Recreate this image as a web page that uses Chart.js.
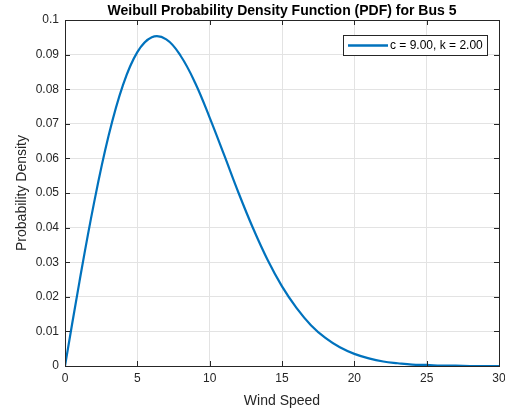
<!DOCTYPE html>
<html>
<head>
<meta charset="utf-8">
<script src="https://cdn.jsdelivr.net/npm/chart.js@4"></script>
<style>
  html, body { margin: 0; padding: 0; background: #fff; }
  #wrap { width: 505px; height: 410px; }
</style>
</head>
<body>
<div id="wrap"><canvas id="pdfChart" width="505" height="410"></canvas></div>
<script>
// values
const windSpeed = [0, 1, 2, 3, 4, 5, 6, 7, 8, 9, 10, 11, 12, 13, 14, 15, 16, 17, 18, 19, 20, 21, 22, 23, 24, 25, 26, 27, 28, 29, 30];
const density = [0, 0.0244, 0.0470, 0.0663, 0.0811, 0.0907, 0.0950, 0.0944, 0.0896, 0.0818, 0.0718,
    0.0610, 0.0500, 0.0398, 0.0307, 0.0230, 0.0168, 0.0118, 0.0081, 0.0054, 0.0035,
    0.0022, 0.0013, 0.0008, 0.0004, 0.0003, 0.0001, 0.0001, 0, 0, 0];
const seriesLabel = 'c = 9.00, k = 2.00';
const chartTitle = 'Weibull Probability Density Function (PDF) for Bus 5';
const xTicks = [0, 5, 10, 15, 20, 25, 30];
const yTicks = [0, 0.01, 0.02, 0.03, 0.04, 0.05, 0.06, 0.07, 0.08, 0.09, 0.1];

const axisColor = '#262626';
const lineColor = '#0072BD';
const fontFamily = '"Liberation Sans", Arial, sans-serif';

// box, inner ticks, title and legend like matlab
const matlabFrame = {
    id: 'matlabFrame',
    afterDraw(chart) {
        const ctx = chart.ctx;
        const a = chart.chartArea;
        const xs = chart.scales.x, ys = chart.scales.y;
        ctx.save();
        ctx.strokeStyle = axisColor;
        ctx.lineWidth = 1;
        ctx.beginPath();
        ctx.rect(Math.round(a.left) + 0.5, Math.round(a.top) + 0.5, Math.round(a.right - a.left), Math.round(a.bottom - a.top));
        ctx.stroke();
        ctx.beginPath();
        xTicks.forEach(v => {
            const px = Math.round(xs.getPixelForValue(v)) + 0.5;
            ctx.moveTo(px, a.bottom); ctx.lineTo(px, a.bottom - 5);
            ctx.moveTo(px, a.top); ctx.lineTo(px, a.top + 5);
        });
        yTicks.forEach(v => {
            const py = Math.round(ys.getPixelForValue(v)) + 0.5;
            ctx.moveTo(a.left, py); ctx.lineTo(a.left + 5, py);
            ctx.moveTo(a.right, py); ctx.lineTo(a.right - 5, py);
        });
        ctx.stroke();

        // title
        ctx.fillStyle = '#000';
        ctx.font = 'bold 14px ' + fontFamily;
        ctx.textAlign = 'center';
        ctx.textBaseline = 'middle';
        ctx.fillText(chartTitle, (a.left + a.right) / 2, 11);

        // legend
        const lx = 343, ly = 35, lw = 144, lh = 20;
        ctx.fillStyle = '#fff';
        ctx.fillRect(lx, ly, lw, lh);
        ctx.strokeStyle = axisColor;
        ctx.strokeRect(lx + 0.5, ly + 0.5, lw, lh);
        ctx.strokeStyle = lineColor;
        ctx.lineWidth = 2.5;
        ctx.beginPath();
        ctx.moveTo(lx + 5, ly + 10.5);
        ctx.lineTo(lx + 45, ly + 10.5);
        ctx.stroke();
        ctx.fillStyle = '#000';
        ctx.font = '12px ' + fontFamily;
        ctx.textAlign = 'left';
        ctx.fillText(seriesLabel, lx + 47, ly + 11);
        ctx.restore();
    }
};

const ctx = document.getElementById('pdfChart').getContext('2d');
new Chart(ctx, {
    type: 'line',
    data: {
        datasets: [{
            label: seriesLabel,
            data: windSpeed.map((w, i) => ({ x: w, y: density[i] })),
            borderColor: lineColor,
            borderWidth: 2.2,
            pointRadius: 0,
            fill: false,
            tension: 0.4
        }]
    },
    options: {
        responsive: false,
        animation: false,
        layout: { padding: { top: 20, right: 0, left: 0, bottom: 0 } },
        plugins: {
            legend: { display: false },
            tooltip: { enabled: false }
        },
        scales: {
            x: {
                type: 'linear',
                min: 0,
                max: 30,
                afterBuildTicks: s => { s.ticks = xTicks.map(v => ({ value: v })); },
                afterFit: s => { s.height = 44; s.paddingRight = 6; },
                grid: { color: '#e3e3e3', drawTicks: false },
                border: { color: axisColor },
                ticks: {
                    color: axisColor,
                    padding: 5,
                    maxRotation: 0,
                    font: { family: fontFamily, size: 12 }
                },
                title: {
                    display: true,
                    text: 'Wind Speed',
                    color: axisColor,
                    padding: { top: 0, bottom: 0 },
                    font: { family: fontFamily, size: 14 }
                }
            },
            y: {
                min: 0,
                max: 0.1,
                afterBuildTicks: s => { s.ticks = yTicks.map(v => ({ value: v })); },
                afterFit: s => { s.width = 65; },
                grid: { color: '#e3e3e3', drawTicks: false },
                border: { color: axisColor },
                ticks: {
                    color: axisColor,
                    padding: 6,
                    font: { family: fontFamily, size: 12 },
                    callback: v => String(Math.round(v * 100) / 100)
                },
                title: {
                    display: true,
                    text: 'Probability Density',
                    color: axisColor,
                    padding: { top: 14, bottom: 0 },
                    font: { family: fontFamily, size: 14 }
                }
            }
        }
    },
    plugins: [matlabFrame]
});
</script>
</body>
</html>
